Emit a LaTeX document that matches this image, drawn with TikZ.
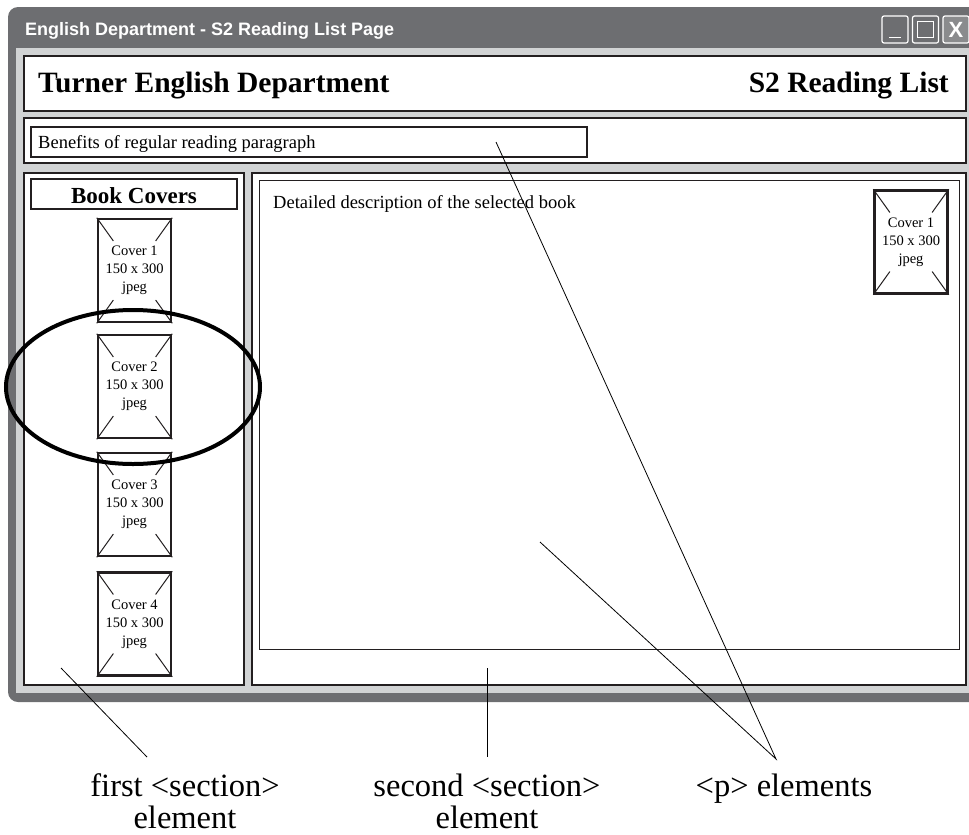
\documentclass[tikz,border=0pt]{standalone}
\usepackage{fontspec}
\setmainfont{Liberation Serif}
\newfontfamily\barfont{Liberation Sans}
\usetikzlibrary{calc, positioning}

\tikzset{
    panel/.style={draw=inkColour, line width=2.5pt, fill=white},
    thinbox/.style={draw=inkColour, line width=1.2pt, fill=white},
    coverbox/.style={draw=inkColour, line width=2.5pt, fill=white, minimum width=73pt, minimum height=103pt, inner sep=0pt, align=center, font=\fontsize{14.5}{18}\selectfont},
    callout/.style={font=\fontsize{32.5}{32}\selectfont, align=center, inner sep=0pt},
    pointer/.style={draw=black, line width=0.8pt},
    winbutton/.style={draw=white, line width=1.2pt, rounded corners=2pt, minimum width=26pt, minimum height=27pt, inner sep=0pt}
}

% Image placeholder with the corner ticks
\newcommand{\coverImg}[4]{%
    \node[coverbox] (#1) at (#2,#3) {Cover #4\\150 x 300\\jpeg};
    \draw[inkColour, line width=1pt]
        (#1.north west) -- ($(#1.north west)!0.22!(#1.south east)$)
        (#1.north east) -- ($(#1.north east)!0.22!(#1.south west)$)
        (#1.south west) -- ($(#1.south west)!0.22!(#1.north east)$)
        (#1.south east) -- ($(#1.south east)!0.22!(#1.north west)$);
}

\begin{document}
\begin{tikzpicture}[x=1pt, y=-1pt]
    \definecolor{winGrey}{HTML}{6D6E71}
    \definecolor{paneGrey}{HTML}{D1D3D4}
    \definecolor{inkColour}{HTML}{231F20}

    % Page size
    \clip (0,0) rectangle (969,835);
    \useasboundingbox (0,0) rectangle (969,835);

    % Draw window frame
    \fill[winGrey, rounded corners=10pt] (8,7) rectangle (1000,702);
    \fill[paneGrey] (16,48) rectangle (1000,693);
    \node[anchor=base west, inner sep=0pt, text=white, font=\barfont\bfseries\fontsize{18}{18}\selectfont] (winTitle) at (25,35) {English Department - S2 Reading List Page};

    % Window buttons
    \node[winbutton] (btnMin) at (895,29.5) {};
    \node[winbutton] (btnMax) at (925.5,29.5) {};
    \node[winbutton, fill=winGrey!80!white] (btnClose) at (956,29.5) {};
    \draw[white, line width=1.5pt] ([xshift=-6pt, yshift=-8pt]btnMin.center) -- ([xshift=6pt, yshift=-8pt]btnMin.center);
    \draw[white, line width=1.2pt] ([xshift=-8pt, yshift=-8pt]btnMax.center) rectangle ([xshift=8pt, yshift=8pt]btnMax.center);
    \node[text=white, inner sep=0pt, font=\barfont\bfseries\fontsize{22}{22}\selectfont] at (btnClose.center) {X};

    % Header
    \filldraw[panel] (24,56) rectangle (966,111);
    \node[anchor=base west, inner sep=0pt, font=\bfseries\fontsize{29.5}{30}\selectfont] (siteName) at (38,92) {Turner English Department};
    \node[anchor=base east, inner sep=0pt, font=\bfseries\fontsize{29.5}{30}\selectfont] (listName) at (949,92) {S2 Reading List};

    % Paragraph strip
    \filldraw[panel] (24,118) rectangle (966,163);
    \filldraw[thinbox] (31,127) rectangle (587,157);
    \node[anchor=base west, inner sep=0pt, font=\fontsize{18.5}{20}\selectfont] (benefits) at (38,148) {Benefits of regular reading paragraph};

    % First section
    \filldraw[panel] (24,173) rectangle (244,685);
    \filldraw[thinbox] (31,179) rectangle (237,209);
    \node[anchor=base, inner sep=0pt, font=\bfseries\fontsize{23}{24}\selectfont] (coversTitle) at (134,203) {Book Covers};
    \coverImg{coverA}{134.5}{270.5}{1}
    \coverImg{coverB}{134.5}{386.5}{2}
    \coverImg{coverC}{134.5}{504.5}{3}
    \coverImg{coverD}{134.5}{624}{4}

    % Second section
    \filldraw[panel] (252,173) rectangle (966,685);
    \filldraw[draw=inkColour, line width=1pt, fill=white] (259,180) rectangle (959,649);
    \node[anchor=base west, inner sep=0pt, font=\fontsize{18.5}{20}\selectfont] (details) at (273,208) {Detailed description of the selected book};
    \coverImg{coverMain}{911}{242}{1}

    % Highlight round cover 2
    \draw[black, line width=4pt] (133,387) ellipse [x radius=127pt, y radius=77pt];

    % Callout labels
    \node[callout, anchor=base] (firstLbl) at (185,828) {first <section>\\element};
    \node[callout, anchor=base] (secondLbl) at (487,828) {second <section>\\element};
    \node[callout, anchor=base] (pLbl) at (784,796) {<p> elements};

    % Pointer lines
    \coordinate (firstTip) at (61,668);
    \coordinate (firstFoot) at (147,757);
    \coordinate (secondTip) at (487,668);
    \coordinate (secondFoot) at (487,757);
    \coordinate (pTipTop) at (496,142);
    \coordinate (pTipLow) at (540,542);
    \coordinate (pFoot) at (776,759);
    \draw[pointer] (firstTip) -- (firstFoot);
    \draw[pointer] (secondTip) -- (secondFoot);
    \draw[pointer] (pTipTop) -- (pFoot) -- (pTipLow);
\end{tikzpicture}
\end{document}
